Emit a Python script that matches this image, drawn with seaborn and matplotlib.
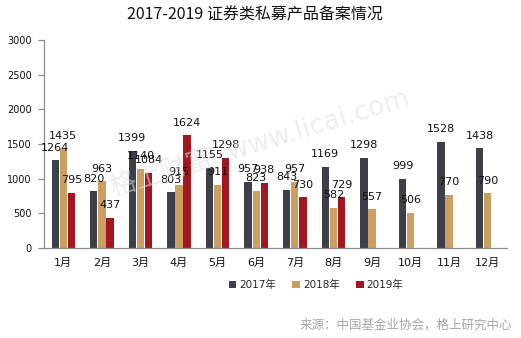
import numpy as np
import pandas as pd
import matplotlib
matplotlib.use("Agg")
import matplotlib.pyplot as plt
from matplotlib.patches import Patch
import seaborn as sns

months = ["1月", "2月", "3月", "4月", "5月", "6月", "7月", "8月", "9月", "10月", "11月", "12月"]
years = ["2017年", "2018年", "2019年"]
v2017 = [1264, 820, 1399, 803, 1155, 957, 843, 1169, 1298, 999, 1528, 1438]
v2018 = [1435, 963, 1140, 915, 911, 823, 957, 582, 557, 506, 770, 790]
v2019 = [795, 437, 1084, 1624, 1298, 938, 730, 729, np.nan, np.nan, np.nan, np.nan]
colors = ["#3d4048", "#cb9e62", "#a3161f"]

df = pd.DataFrame({
    "month": months * 3,
    "year": [years[0]] * 12 + [years[1]] * 12 + [years[2]] * 12,
    "value": v2017 + v2018 + v2019,
})

sns.set_theme(style="white")
plt.rcParams["font.family"] = ["DejaVu Sans", "Noto Sans CJK SC"]

fig = plt.figure(figsize=(5.21, 3.38), dpi=100)
ax = fig.add_axes([44 / 521, 1 - 248 / 338, 463 / 521, 208 / 338])

sns.barplot(data=df.dropna(), x="month", y="value", hue="year",
            order=months, hue_order=years, palette=colors,
            width=0.63, gap=0.1, errorbar=None, legend=False, ax=ax,
            saturation=1, linewidth=0, zorder=2)

for cont in ax.containers:
    labels = [f"{v:.0f}" if np.isfinite(v) else "" for v in cont.datavalues]
    ax.bar_label(cont, labels=labels, padding=5.5, fontsize=8, color="#111111")

ax.set_ylim(0, 3000)
ax.set_yticks(np.arange(0, 3001, 500))
ax.set_xlim(-0.5, 11.5)
ax.set_xlabel("")
ax.set_ylabel("")

for s in ["top", "right"]:
    ax.spines[s].set_visible(False)
for s in ["left", "bottom"]:
    ax.spines[s].set_color("#8c8c8c")
    ax.spines[s].set_linewidth(0.9)

ax.set_xticks(np.arange(-0.5, 12, 1), minor=True)
ax.tick_params(axis="x", which="major", length=0, pad=7, labelsize=8, labelcolor="#111111")
ax.tick_params(axis="x", which="minor", length=4, width=0.9, color="#8c8c8c", direction="out")
ax.tick_params(axis="y", length=4, width=0.9, color="#8c8c8c", direction="out",
               pad=5, labelsize=7, labelcolor="#111111", left=True)

# faint site mark across the plot
fig.text(0.50, 0.575, "格上财富  www.licai.com", fontsize=19, color="#dedede",
         alpha=0.55, rotation=17, ha="center", va="center", zorder=0,
         family=["DejaVu Sans", "Noto Sans CJK SC"])

fig.text(0.489, 1 - 15 / 338, "2017-2019 证券类私募产品备案情况", ha="center", va="center",
         fontsize=11.5, color="#111111", family=["Noto Sans CJK SC", "DejaVu Sans"])

handles = [Patch(facecolor=c, edgecolor="none") for c in colors]
fig.legend(handles, years, loc="center", bbox_to_anchor=(316 / 521, 1 - 285 / 338),
           ncol=3, frameon=False, fontsize=7.5, handlelength=0.7, handleheight=0.7,
           handletextpad=0.3, columnspacing=1.6)

fig.text(512 / 521, 1 - 325 / 338, "来源：中国基金业协会，格上研究中心", ha="right", va="center",
         fontsize=9, color="#a6a6a6", family=["Noto Sans CJK SC", "DejaVu Sans"])

fig.savefig("out.png", dpi=100)
